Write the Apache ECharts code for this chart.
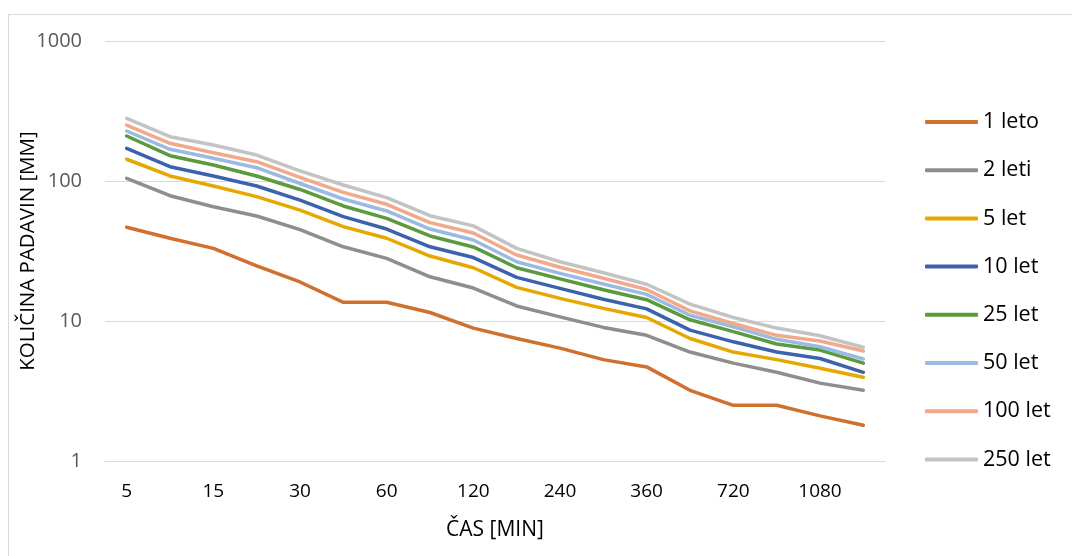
<!DOCTYPE html>
<html>
<head>
<meta charset="utf-8">
<script src="https://cdn.jsdelivr.net/npm/echarts@6/dist/echarts.min.js"></script>
<style>
  html, body { margin: 0; padding: 0; background: #ffffff; }
  #chart { width: 1072px; height: 556px; }
</style>
</head>
<body>
<div id="chart"></div>
<script>
// Trajanje padavin [min]
const durations = ['5', '10', '15', '20', '30', '45', '60', '90', '120', '180', '240', '300', '360', '540', '720', '900', '1080', '1440'];

// Povratne dobe
const seriesNames = ['1 leto', '2 leti', '5 let', '10 let', '25 let', '50 let', '100 let', '250 let'];

// Količina padavin [mm] za posamezno povratno dobo
const leto1   = [46.7, 39.0, 33.0, 24.8, 19.0, 13.6, 13.6, 11.5, 8.9, 7.5, 6.4, 5.3, 4.7, 3.2, 2.5, 2.5, 2.1, 1.8];
const leti2   = [104.5, 78.5, 65.5, 56.2, 45.0, 33.9, 28.0, 20.7, 17.2, 12.8, 10.7, 9.0, 7.9, 6.0, 5.0, 4.3, 3.6, 3.2];
const let5    = [143, 108.6, 92.1, 77.3, 62, 47.2, 39.0, 29.1, 24.0, 17.4, 14.5, 12.3, 10.6, 7.5, 6.0, 5.3, 4.6, 3.96];
const let10   = [171, 126.5, 108.6, 92.1, 73, 55.6, 45.4, 33.9, 28.4, 20.5, 17.1, 14.3, 12.2, 8.6, 7.1, 6.0, 5.4, 4.3];
const let25   = [209.6, 151.6, 130, 108.6, 87, 66.3, 54.1, 40.5, 33.8, 24.0, 20.0, 16.7, 14.2, 10.2, 8.4, 6.85, 6.2, 5.0];
const let50   = [227.6, 168.4, 145.3, 124.5, 96, 74.4, 61.1, 45.4, 37.9, 26.5, 21.9, 18.4, 15.5, 11.0, 9.1, 7.4, 6.55, 5.35];
const let100  = [251, 185.9, 159.3, 137.3, 106, 83, 68.2, 50.4, 42.5, 29.6, 24.2, 20.2, 16.8, 11.8, 9.6, 7.9, 7.2, 6.1];
const let250  = [280.5, 207.2, 180.7, 153.3, 118, 93.6, 76, 56.5, 47.8, 33.0, 26.5, 22.1, 18.3, 13.2, 10.6, 8.9, 7.85, 6.5];

const seriesData = [leto1, leti2, let5, let10, let25, let50, let100, let250];
const colors = ['#D0702E', '#8E8E8E', '#E6A800', '#3B63AD', '#5C9A3E', '#9ABAE2', '#F2A98A', '#C3C3C3'];

const FONT = "'Open Sans', sans-serif";

const chart = echarts.init(document.getElementById('chart'), null, { renderer: 'canvas' });

chart.setOption({
  backgroundColor: '#ffffff',
  animation: false,
  color: colors,
  graphic: [{
    type: 'rect',
    shape: { x: 8.5, y: 14.5, width: 1070, height: 560 },
    style: { fill: 'none', stroke: '#d9d9d9', lineWidth: 1 },
    silent: true
  }],
  grid: { left: 105, right: 187, top: 41, bottom: 95 },
  legend: {
    orient: 'vertical',
    left: 920,
    top: 106,
    itemWidth: 53,
    itemHeight: 4,
    itemGap: 26.2,
    icon: 'roundRect',
    textStyle: { fontFamily: FONT, fontSize: 21.5, color: '#000000', lineHeight: 20 },
    data: seriesNames
  },
  xAxis: {
    type: 'category',
    data: durations,
    boundaryGap: true,
    name: 'ČAS [MIN]',
    nameLocation: 'middle',
    nameGap: 59,
    nameMoveOverlap: false,
    nameTextStyle: { fontFamily: FONT, fontSize: 21, color: '#000000' },
    axisLine: { show: true, lineStyle: { color: '#d9d9d9', width: 1 } },
    axisTick: { show: false },
    axisLabel: { interval: 1, margin: 21, fontFamily: FONT, fontSize: 19, color: '#000000' },
    splitLine: { show: false }
  },
  yAxis: {
    type: 'log',
    logBase: 10,
    min: 1,
    max: 1000,
    name: 'KOLIČINA PADAVIN [MM]',
    nameLocation: 'middle',
    nameGap: 66,
    nameMoveOverlap: false,
    nameTextStyle: { fontFamily: FONT, fontSize: 20.5, color: '#000000' },
    axisLine: { show: false },
    axisTick: { show: false },
    axisLabel: {
      margin: 23,
      fontFamily: FONT,
      fontSize: 20,
      color: '#595959',
      formatter: (v) => String(Math.round(v))
    },
    splitLine: { show: true, lineStyle: { color: '#d9d9d9', width: 1 } }
  },
  series: seriesNames.map((name, i) => ({
    name: name,
    type: 'line',
    data: seriesData[i],
    symbol: 'none',
    lineStyle: { width: 3.5, color: colors[i], cap: 'round', join: 'round' },
    itemStyle: { color: colors[i] },
    z: 2 + i
  }))
});
</script>
</body>
</html>
